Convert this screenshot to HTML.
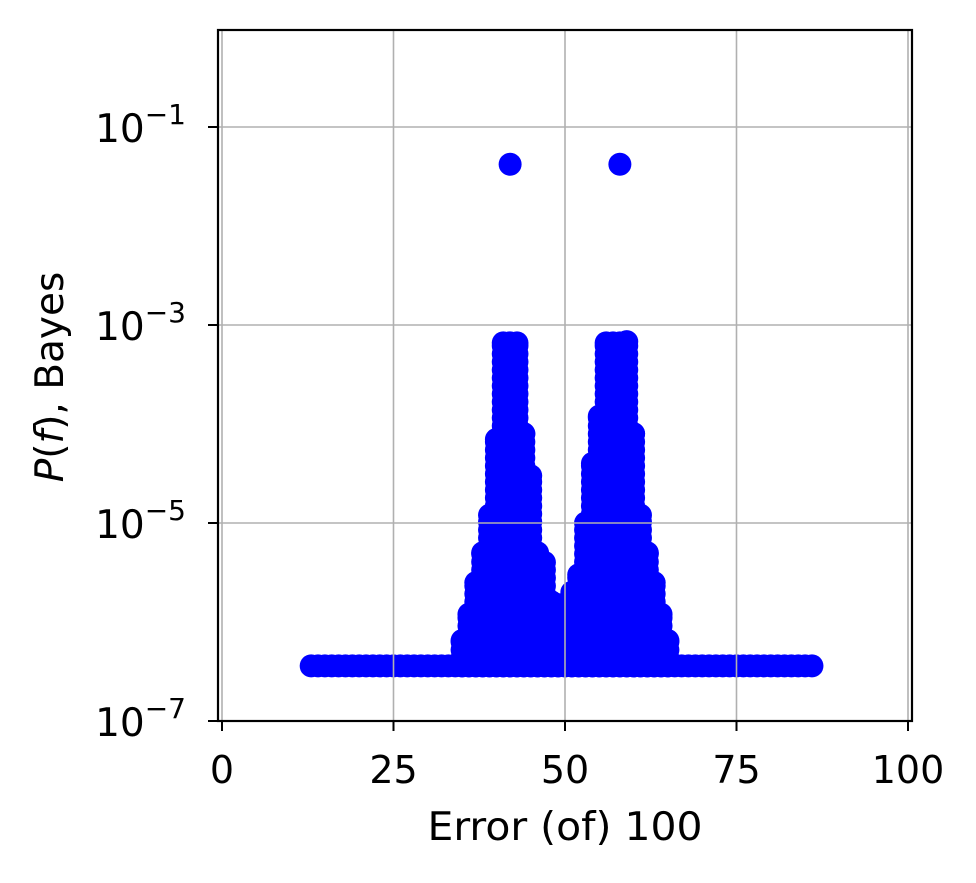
<!DOCTYPE html>
<html><head><meta charset="utf-8"><style>
body{margin:0;background:#fff}
svg text{font-family:"DejaVu Sans","Liberation Sans",sans-serif;fill:#000}
</style></head><body>
<svg id="c" width="976" height="878" xmlns="http://www.w3.org/2000/svg"></svg>
<script>
const xTicks=[0,25,50,75,100];
const yTickExps=[-7,-5,-3,-1];
const baseX=[13,14,15,16,17,18,19,20,21,22,23,24,25,26,27,28,29,30,31,32,33,34,35,36,37,38,39,40,41,42,43,44,45,46,47,48,49,50,51,52,53,54,55,56,57,58,59,60,61,62,63,64,65,66,67,68,69,70,71,72,73,74,75,76,77,78,79,80,81,82,83,84,85,86];
const baseVal=3.6e-7;
const blobX=[35,36,37,38,39,40,41,42,43,44,45,46,47,48,49,50,51,52,53,54,55,56,57,58,59,60,61,62,63,64,65];
const blobMax=[6.5e-7,1.2e-6,2.5e-6,5e-6,1.2e-5,7e-5,6.6e-4,6.6e-4,6.6e-4,8e-5,3e-5,5e-6,4e-6,1.6e-6,1.5e-6,1.5e-6,2e-6,3e-6,1e-5,4e-5,1.2e-4,6.6e-4,6.6e-4,6.6e-4,6.8e-4,8e-5,1.2e-5,5e-6,2.5e-6,1.2e-6,6.5e-7];
const outX=[42,58];
const outVal=[0.042,0.042];

const L=218,R=912,T=30,B=721;
const xs=v=>222+(v-0)*(908-222)/100;
const ys=v=>721-(Math.log10(v)+7)*99;
const svg=document.getElementById('c');
const NS='http://www.w3.org/2000/svg';
function mk(t,a){const e=document.createElementNS(NS,t);for(const k in a)e.setAttribute(k,a[k]);svg.appendChild(e);return e;}

const bg=mk('rect',{x:L,y:T,width:R-L,height:B-T,fill:'#fff'});



const pts=document.createElementNS(NS,'g');svg.appendChild(pts);


function dot(x,y){const c=document.createElementNS(NS,'circle');c.setAttribute('cx',x);c.setAttribute('cy',y);c.setAttribute('r',11.5);c.setAttribute('fill','#0000ff');


pts.appendChild(c);}
baseX.forEach(x=>dot(xs(x),ys(baseVal)));
blobX.forEach((x,i)=>{const top=ys(blobMax[i]),bot=ys(baseVal);for(let y=bot;y>top;y-=8)dot(xs(x),y);dot(xs(x),top);});
outX.forEach((x,i)=>dot(xs(x),ys(outVal[i])));

xTicks.forEach(t=>{const l=mk('line',{x1:xs(t),x2:xs(t),y1:T,y2:B,stroke:'#b0b0b0','stroke-width':1.6});
});
yTickExps.forEach(e=>{const l=mk('line',{x1:L,x2:R,y1:ys(Math.pow(10,e)),y2:ys(Math.pow(10,e)),stroke:'#b0b0b0','stroke-width':1.6});
});

const fr=mk('rect',{x:L,y:T,width:R-L,height:B-T,fill:'none',stroke:'#000','stroke-width':2.2});


xTicks.forEach(t=>{mk('line',{x1:xs(t),x2:xs(t),y1:B,y2:B+10,stroke:'#000','stroke-width':2});
const tx=mk('text',{x:xs(t),y:783,'text-anchor':'middle','font-size':38});tx.textContent=t;
});
yTickExps.forEach(e=>{const y=ys(Math.pow(10,e));mk('line',{x1:L-10,x2:L,y1:y,y2:y,stroke:'#000','stroke-width':2});
const tx=mk('text',{x:L-32,y:y+15,'text-anchor':'end','font-size':39});
tx.innerHTML='10<tspan dy="-18" font-size="28">\u2212'+Math.abs(e)+'</tspan>';
});

const xl=mk('text',{x:565,y:840,'text-anchor':'middle','font-size':39,textLength:275,lengthAdjust:'spacingAndGlyphs'});xl.textContent='Error (of) 100';

const yl=mk('text',{x:0,y:0,'text-anchor':'middle','font-size':39,transform:'translate(63,377) rotate(-90)'});
yl.innerHTML='<tspan font-style="italic">P</tspan>(<tspan font-style="italic">f</tspan>), Bayes';

</script>
</body></html>
